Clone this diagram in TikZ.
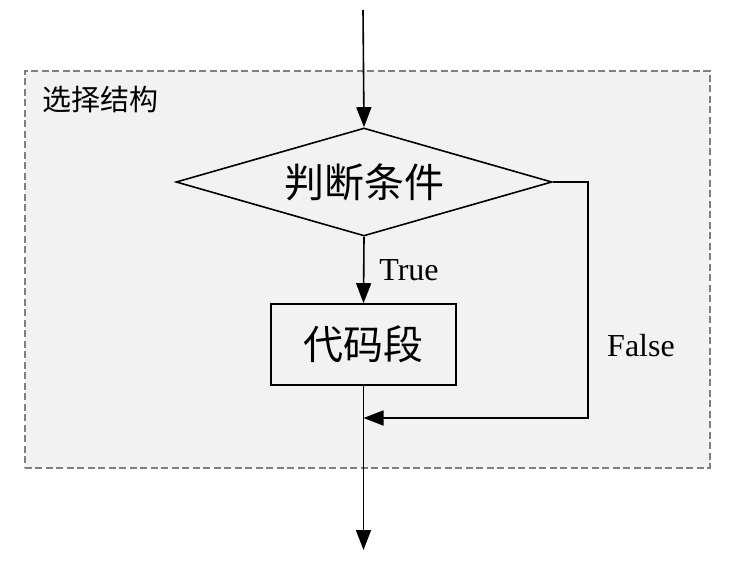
\documentclass[tikz,border=0pt]{standalone}
\usepackage{fontspec}
\setmainfont{Liberation Serif}
\newfontfamily\cjk{Noto Sans CJK SC}
\usetikzlibrary{arrows.meta,shapes.geometric}
\definecolor{bgfill}{RGB}{242,242,242}
\definecolor{dashgray}{RGB}{128,128,128}
\begin{document}
\begin{tikzpicture}[x=1pt,y=-1pt,
  flow/.style={line width=1.6pt,-{Triangle[length=20pt,width=15pt]}},
  container/.style={draw=dashgray,fill=bgfill,line width=1.6pt,dash pattern=on 7pt off 3.5pt,
    minimum width=685pt,minimum height=397pt,inner sep=0pt,anchor=north west},
  decision/.style={draw,line width=1.6pt,diamond,aspect=3.48,minimum width=376pt,minimum height=108pt,
    inner sep=0pt,font=\cjk\fontsize{40}{44}\selectfont},
  process/.style={draw,line width=1.6pt,rectangle,minimum width=185pt,minimum height=81pt,
    inner sep=0pt,font=\cjk\fontsize{40}{44}\selectfont},
  lab/.style={font=\fontsize{32}{36}\selectfont,inner sep=0pt},
  title/.style={font=\cjk\fontsize{29}{32}\selectfont,inner sep=0pt}
]
\useasboundingbox (0,0) rectangle (731,564);
\node[container] (frame) at (24,70) {};
\node[title] (ttl) at (100,99) {选择结构};
\coordinate (start) at (363,10);
\node[decision] (dia) at (364,182) {判断条件};
\node[process] (code) at (363.5,344.5) {代码段};
\coordinate (fr) at (588,418);
\coordinate (join) at (363.5,418);
\coordinate (end) at (363.5,550);
\draw[flow] (start) -- (dia.north);
\draw[flow] (dia.south) -- (code.north);
\node[lab] (t) at (409,270) {True};
\draw[flow] (dia.east) -| (fr) -- (join);
\node[lab] (f) at (641,346) {False};
\draw[flow] (code.south) -- (end);
\end{tikzpicture}
\end{document}
